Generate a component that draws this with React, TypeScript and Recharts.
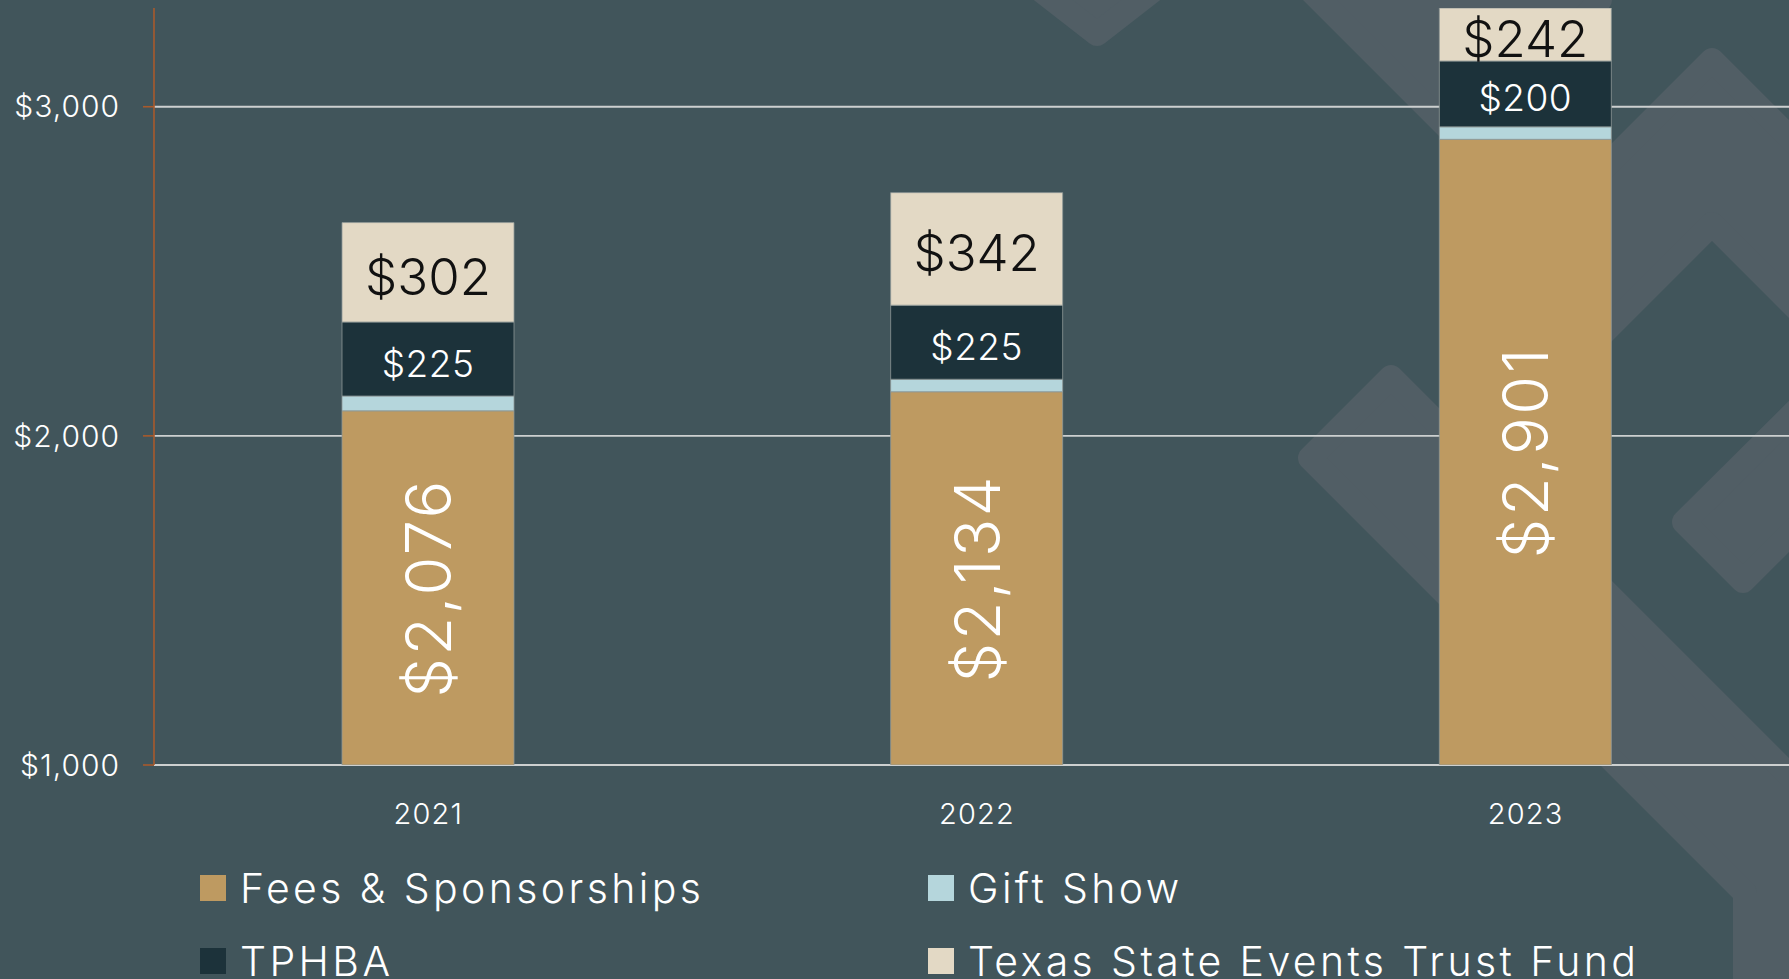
// Revenue mix by year — stacked bars on a dark slate card with a faint diamond pattern behind.
import { Bar, BarChart, CartesianGrid, LabelList, Legend, XAxis, YAxis } from "recharts";

const YEARS = ["2021", "2022", "2023"];
const FEES = [2076, 2134, 2901];
const GIFT_SHOW = [45, 38, 38];
const TPHBA = [225, 225, 200];
const TRUST_FUND = [302, 342, 242];
const Y_TICKS = [1000, 2000, 3000];
const Y_DOMAIN = [1000, 3300];

const BG = "#41555B";
const DECOR_FILL = "#515E65";
const FONT = "Inter, 'Open Sans', sans-serif";
const PLOT_TOP = 8;

const SERIES = [
  { key: "fees", name: "Fees & Sponsorships", color: "#BE9A61", label: { fill: "#ffffff", size: 63, spacing: 2.5, vertical: true } },
  { key: "gift", name: "Gift Show", color: "#B5D6DC", label: null },
  { key: "tphba", name: "TPHBA", color: "#1C323A", label: { fill: "#ffffff", size: 37, spacing: 0.5, vertical: false } },
  { key: "trust", name: "Texas State Events Trust Fund", color: "#E3D9C5", label: { fill: "#111111", size: 51, spacing: 0, vertical: false } },
];

const data = YEARS.map((year, i) => ({
  year,
  fees: FEES[i],
  gift: GIFT_SHOW[i],
  tphba: TPHBA[i],
  trust: TRUST_FUND[i],
}));

// background pattern (not data): 45° rotated rounded shapes on the right side
const DECOR = [
  "M917,-106 L1097,34 L1277,-106 L1097,-286 Z",
  "M1270,-50 L1550,-50 L1600,0 L1468,148 Z",
  "M1550,222 L1712,60 L1850,198 L1850,362 L1712,224 L1550,386 Z",
  "M1391,377 L1850,836 L1850,1000 L1745,1000 L1745,893 L1310,458 Z",
  "M1684,522 L1743,581 L1850,474 L1850,357 Z",
];

const money = (v: number) => "$" + v.toLocaleString("en-US");

// grid only at the tick values (no line at the domain top)
function gridRows({ yAxis, offset }: any) {
  const sc = yAxis?.scale;
  if (typeof sc === "function") return Y_TICKS.map((t) => sc(t));
  if (sc && typeof sc.map === "function") return Y_TICKS.map((t) => sc.map(t));
  const [lo, hi] = Y_DOMAIN;
  return Y_TICKS.map((t) => offset.top + (offset.height * (hi - t)) / (hi - lo));
}

function SegmentLabel(props: any) {
  const vb = props.viewBox ?? props;
  const { x, y, width, height } = vb;
  const { value, fill, size, spacing, vertical } = props;
  if (value == null) return null;
  const top = Math.max(y, PLOT_TOP);
  const cx = x + width / 2;
  const cy = (top + y + height) / 2 + (vertical ? 0 : 4);
  return (
    <text
      x={cx}
      y={cy}
      fill={fill}
      fontSize={size}
      fontFamily={FONT}
      fontWeight={300}
      letterSpacing={spacing}
      textAnchor="middle"
      dominantBaseline="central"
      transform={vertical ? `rotate(-90, ${cx}, ${cy})` : undefined}
    >
      {money(Number(value))}
    </text>
  );
}

function LegendGrid({ payload }: any) {
  return (
    <div style={{ display: "grid", gridTemplateColumns: "728px 728px", fontFamily: FONT }}>
      {(payload ?? []).map((p: any) => (
        <div key={p.value} style={{ display: "flex", alignItems: "center", height: 73 }}>
          <span style={{ width: 26, height: 26, background: p.color, marginRight: 14, flex: "none" }} />
          <span style={{ color: "#ffffff", fontSize: 41, fontWeight: 300, letterSpacing: 3.4, whiteSpace: "nowrap" }}>
            {p.value}
          </span>
        </div>
      ))}
    </div>
  );
}

export default function App() {
  return (
    <div
      style={{
        position: "fixed",
        left: 0,
        top: 0,
        width: 1789,
        height: 979,
        overflow: "hidden",
        background: BG,
        fontFamily: FONT,
      }}
    >
      <svg width={1789} height={979} style={{ position: "absolute", left: 0, top: 0 }}>
        {DECOR.map((d, i) => (
          <path key={i} d={d} fill={DECOR_FILL} stroke={DECOR_FILL} strokeWidth={24} strokeLinejoin="round" />
        ))}
      </svg>
      <div style={{ position: "absolute", left: 0, top: 0 }}>
        <BarChart width={1800} height={979} data={data} margin={{ top: PLOT_TOP, right: 0, bottom: 164, left: 0 }}>
          <CartesianGrid vertical={false} stroke="#CDD0D0" strokeWidth={1.8} horizontalCoordinatesGenerator={gridRows} />
          <XAxis
            dataKey="year"
            height={50}
            axisLine={false}
            tickLine={false}
            tickSize={0}
            tickMargin={38}
            tick={{ fill: "#ffffff", fontSize: 29, fontWeight: 300, fontFamily: FONT, letterSpacing: 1.2 }}
          />
          <YAxis
            type="number"
            domain={Y_DOMAIN}
            ticks={Y_TICKS}
            allowDataOverflow
            width={154}
            tickSize={11}
            tickMargin={23}
            axisLine={{ stroke: "#A85A2C", strokeWidth: 1.6 }}
            tickLine={{ stroke: "#A85A2C", strokeWidth: 1.6 }}
            tick={{ fill: "#ffffff", fontSize: 30, fontWeight: 300, fontFamily: FONT, letterSpacing: 1 }}
            tickFormatter={money}
          />
          <Legend
            verticalAlign="middle"
            align="center"
            layout="horizontal"
            wrapperStyle={{ left: 200, top: 851, width: 1456 }}
            content={<LegendGrid />}
          />
          {SERIES.map((s) => (
            <Bar
              key={s.key}
              dataKey={s.key}
              name={s.name}
              stackId="a"
              fill={s.color}
              stroke="#8E9897"
              strokeWidth={0.8}
              barSize={172}
              isAnimationActive={false}
            >
              {s.label && (
                <LabelList
                  dataKey={s.key}
                  content={(p: any) => (
                    <SegmentLabel
                      {...p}
                      fill={s.label!.fill}
                      size={s.label!.size}
                      spacing={s.label!.spacing}
                      vertical={s.label!.vertical}
                    />
                  )}
                />
              )}
            </Bar>
          ))}
        </BarChart>
      </div>
    </div>
  );
}
